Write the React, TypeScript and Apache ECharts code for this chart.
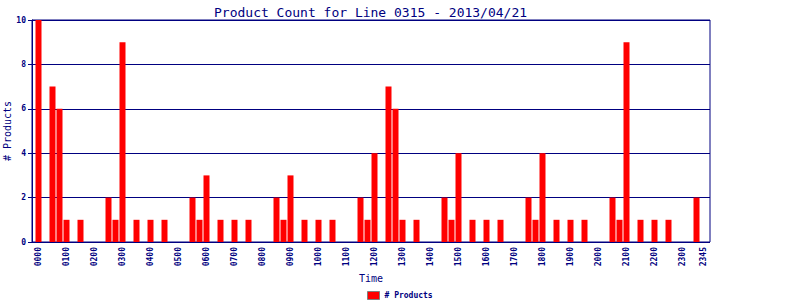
import React, { useEffect, useRef } from "react";
import * as echarts from "echarts";

const titleText = "Product Count for Line 0315 - 2013/04/21";
const seriesName = "# Products";

const times: string[] = [
  "0000", "0015", "0030", "0045", "0100", "0115", "0130", "0145",
  "0200", "0215", "0230", "0245", "0300", "0315", "0330", "0345",
  "0400", "0415", "0430", "0445", "0500", "0515", "0530", "0545",
  "0600", "0615", "0630", "0645", "0700", "0715", "0730", "0745",
  "0800", "0815", "0830", "0845", "0900", "0915", "0930", "0945",
  "1000", "1015", "1030", "1045", "1100", "1115", "1130", "1145",
  "1200", "1215", "1230", "1245", "1300", "1315", "1330", "1345",
  "1400", "1415", "1430", "1445", "1500", "1515", "1530", "1545",
  "1600", "1615", "1630", "1645", "1700", "1715", "1730", "1745",
  "1800", "1815", "1830", "1845", "1900", "1915", "1930", "1945",
  "2000", "2015", "2030", "2045", "2100", "2115", "2130", "2145",
  "2200", "2215", "2230", "2245", "2300", "2315", "2330", "2345",
];

const counts: number[] = [
  10, 0, 7, 6, 1, 0, 1, 0, 0, 0, 2, 1,
  9, 0, 1, 0, 1, 0, 1, 0, 0, 0, 2, 1,
  3, 0, 1, 0, 1, 0, 1, 0, 0, 0, 2, 1,
  3, 0, 1, 0, 1, 0, 1, 0, 0, 0, 2, 1,
  4, 0, 7, 6, 1, 0, 1, 0, 0, 0, 2, 1,
  4, 0, 1, 0, 1, 0, 1, 0, 0, 0, 2, 1,
  4, 0, 1, 0, 1, 0, 1, 0, 0, 0, 2, 1,
  9, 0, 1, 0, 1, 0, 1, 0, 0, 0, 2, 0,
];

const NAVY = "#000080";
const MONO = "'DejaVu Sans Mono', monospace";

export default function App() {
  const ref = useRef<HTMLDivElement>(null);
  useEffect(() => {
    if (!ref.current) return;
    const chart = echarts.init(ref.current, undefined, { renderer: "svg" });
    const lastIdx = times.length - 1;
    chart.setOption({
      animation: false,
      backgroundColor: "#ffffff",
      title: {
        text: titleText,
        left: 209,
        top: 1,
        textStyle: { fontFamily: MONO, fontSize: 13, fontWeight: "normal", color: NAVY },
      },
      legend: {
        left: 367,
        top: 291,
        itemWidth: 12,
        itemHeight: 8,
        itemGap: 4,
        padding: 0,
        icon: "rect",
        data: [{ name: seriesName, itemStyle: { color: "#ff0000", borderColor: "#808080", borderWidth: 1 } }],
        textStyle: { fontFamily: MONO, fontSize: 8, fontWeight: "bold", color: NAVY, padding: [0, 0, 0, 0] },
      },
      grid: [
        {
          left: 32, right: 90, top: 20, bottom: 58,
          outerBoundsMode: "none", containLabel: false,
          show: true, borderColor: NAVY, borderWidth: 1, backgroundColor: "transparent",
        },
        { left: 35, right: 93, top: 20, bottom: 58, outerBoundsMode: "none", containLabel: false },
      ],
      xAxis: [
        { type: "category", gridIndex: 0, data: times, show: false },
        {
          type: "category",
          gridIndex: 1,
          data: times,
          name: "Time",
          nameLocation: "middle",
          nameGap: 31,
          nameMoveOverlap: false,
          nameTextStyle: { fontFamily: MONO, fontSize: 10, color: NAVY },
          axisLine: { show: false },
          axisTick: { show: false },
          axisLabel: {
            rotate: 90,
            margin: 5,
            fontFamily: MONO,
            fontSize: 8,
            fontWeight: "bold",
            color: NAVY,
            interval: (idx: number) => idx % 4 === 0 || idx === lastIdx,
            showMaxLabel: true,
          },
        },
      ],
      yAxis: [
        {
          type: "value",
          gridIndex: 0,
          position: "left",
          min: 0,
          max: 10,
          interval: 2,
          name: "# Products",
          nameLocation: "middle",
          nameGap: 20,
          nameMoveOverlap: false,
          nameTextStyle: { fontFamily: MONO, fontSize: 10, color: NAVY },
          axisLine: { show: true, onZero: false, lineStyle: { color: NAVY, width: 1 } },
          axisTick: { show: true, inside: false, length: 4, lineStyle: { color: NAVY, width: 1 } },
          splitLine: { show: true, lineStyle: { color: NAVY, width: 1 } },
          axisLabel: {
            margin: 6,
            fontFamily: MONO,
            fontSize: 8,
            fontWeight: "bold",
            color: NAVY,
          },
        },
        { type: "value", gridIndex: 1, min: 0, max: 10, interval: 2, show: false, splitLine: { show: false } },
      ],
      series: [
        {
          name: seriesName,
          type: "bar",
          xAxisIndex: 1,
          yAxisIndex: 1,
          data: counts,
          barWidth: 6,
          itemStyle: { color: "#ff0000" },
        },
      ],
    });
    return () => chart.dispose();
  }, []);
  return <div ref={ref} style={{ width: 800, height: 300, position: "absolute", left: 0, top: 0 }} />;
}
